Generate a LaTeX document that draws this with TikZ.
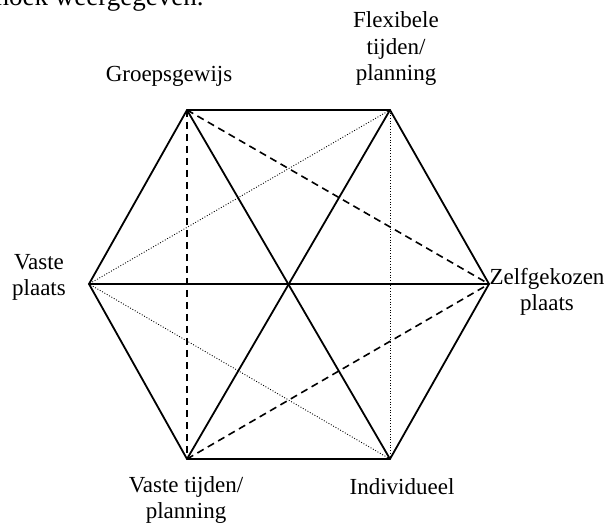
\documentclass[tikz,border=0pt]{standalone}
\usepackage{fontspec}
\setmainfont{Liberation Serif}
\usepackage{tikz}
\usetikzlibrary{calc,positioning}
\definecolor{hxInk}{RGB}{0,0,0}
\tikzset{
  hxedge/.style={draw=hxInk,line width=0.9pt},
  hxdash/.style={draw=hxInk,line width=0.8pt,dash pattern=on 3.6pt off 2.4pt},
  hxdot/.style={draw=hxInk,line width=0.45pt,dash pattern=on 0.45pt off 0.9pt},
  hxlabel/.style={font=\fontsize{11.5}{13.2}\selectfont,align=center,inner sep=0pt,text=hxInk,anchor=north}
}

\begin{document}
\begin{tikzpicture}[x=0.5pt,y=-0.5pt]
  \useasboundingbox (0,0) rectangle (605,529);
  % line of body text, cut by the page edge
  \node[anchor=base east,inner sep=0pt,font=\fontsize{13.5}{16}\selectfont] (bodyline) at (204,5.5) {zeshoek weergegeven.};
  % corners of the hexagon
  \coordinate (grp) at (187,110);
  \coordinate (flex) at (390,110);
  \coordinate (zelf) at (489,284);
  \coordinate (indiv) at (390,459);
  \coordinate (vtijd) at (187,459);
  \coordinate (vplaats) at (89,284);
  % rim and long diagonals
  \draw[hxedge] (grp)--(flex)--(zelf)--(indiv)--(vtijd)--(vplaats)--cycle;
  \draw[hxedge] (grp)--(indiv);
  \draw[hxedge] (flex)--(vtijd);
  \draw[hxedge] (vplaats)--(zelf);
  % short diagonals
  \draw[hxdash] (grp)--(vtijd);
  \draw[hxdash] (grp)--(zelf);
  \draw[hxdash] (vtijd)--(zelf);
  \draw[hxdot] (flex)--(indiv);
  \draw[hxdot] (flex)--(vplaats);
  \draw[hxdot] (indiv)--(vplaats);
  % labels
  \node[hxlabel] (lgrp) at (169,66) {Groepsgewijs};
  \node[hxlabel] (lflex) at (396,11.5) {Flexibele\\tijden/\\planning};
  \node[hxlabel] (lzelf) at (547,267.5) {Zelfgekozen\\plaats};
  \node[hxlabel] (lindiv) at (402,478) {Individueel};
  \node[hxlabel] (lvtijd) at (186,476) {Vaste tijden/\\planning};
  \node[hxlabel] (lvplaats) at (39,254) {Vaste\\plaats};
\end{tikzpicture}
\end{document}
